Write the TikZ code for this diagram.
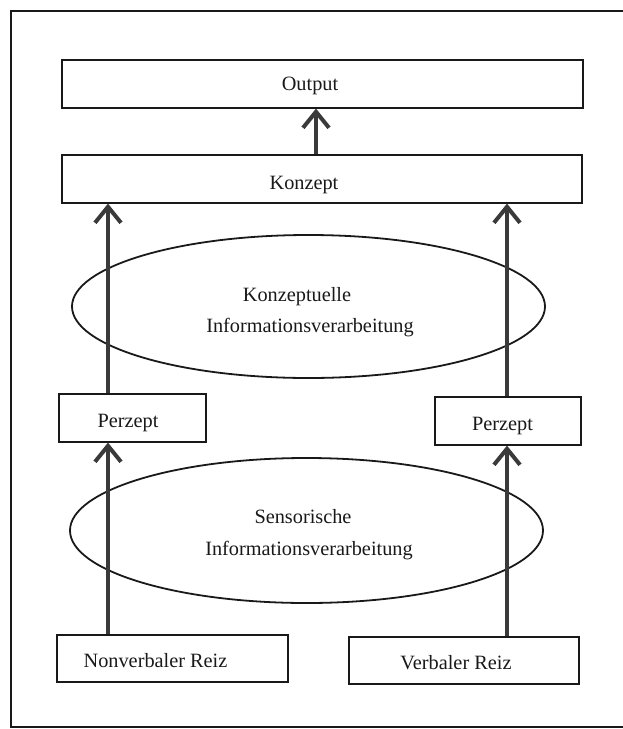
\documentclass[tikz,border=0pt]{standalone}
\usepackage{fontspec}
\setmainfont{Liberation Serif}
\usetikzlibrary{arrows.meta,shapes.geometric}
\definecolor{ink}{RGB}{25,25,25}
\definecolor{arrowgray}{RGB}{58,58,58}
\begin{document}
\begin{tikzpicture}[x=1pt,y=-1pt,
  every node/.style={font=\fontsize{20.3}{24}\selectfont, text=ink},
  boxnode/.style={draw=ink, line width=1.2pt, rectangle, inner sep=0pt, text height=18pt, text depth=0pt},
  ellnode/.style={draw=ink, line width=1.8pt, ellipse, inner sep=0pt},
  flow/.style={draw=arrowgray, line width=4pt, -{Straight Barb[length=16pt,width=26pt,line width=4pt]}},
  frameline/.style={draw=ink, line width=1.2pt}]
\useasboundingbox (0,0) rectangle (623,729);
\draw[frameline] (623,11) -- (11,11) -- (11,727) -- (623,727);

% boxes
\node[boxnode, minimum width=521pt, minimum height=48pt, text height=13.4pt] (output) at (322.5,84) {\hspace*{-25pt}Output};
\node[boxnode, minimum width=520pt, minimum height=48pt, text height=21pt] (konzept) at (322,179) {\hspace*{-36pt}Konzept};
\node[boxnode, minimum width=147pt, minimum height=48pt] (perzL) at (132.5,418) {\hspace*{-9pt}Perzept};
\node[boxnode, minimum width=146pt, minimum height=48pt] (perzR) at (508,421) {\hspace*{-11pt}Perzept};
\node[boxnode, minimum width=231pt, minimum height=47pt] (nonverbal) at (172.5,658.5) {\hspace*{-34pt}Nonverbaler Reiz};
\node[boxnode, minimum width=230pt, minimum height=47pt] (verbal) at (464,660.5) {\hspace*{-16pt}Verbaler Reiz};

% ellipses
\node[ellnode, minimum width=473pt, minimum height=143pt] (konzinfo) at (308.5,306.5) {};
\node[ellnode, minimum width=473pt, minimum height=145pt] (sensinfo) at (306.5,530.5) {};
\node[anchor=base] (konzinfoA) at (297,301) {Konzeptuelle};
\node[anchor=base] (konzinfoB) at (310,332) {Informationsverarbeitung};
\node[anchor=base] (sensinfoA) at (303,523) {Sensorische};
\node[anchor=base] (sensinfoB) at (309,555) {Informationsverarbeitung};

% arrow columns
\coordinate (xO) at (316,0);
\coordinate (xL) at (108,0);
\coordinate (xR) at (507,0);

% arrows
\draw[flow] (konzept.north -| xO) -- (output.south -| xO);
\draw[flow] (perzL.north -| xL) -- (konzept.south -| xL);
\draw[flow] (perzR.north -| xR) -- (konzept.south -| xR);
\draw[flow] (nonverbal.north -| xL) -- (perzL.south -| xL);
\draw[flow] (verbal.north -| xR) -- (perzR.south -| xR);
\end{tikzpicture}
\end{document}
